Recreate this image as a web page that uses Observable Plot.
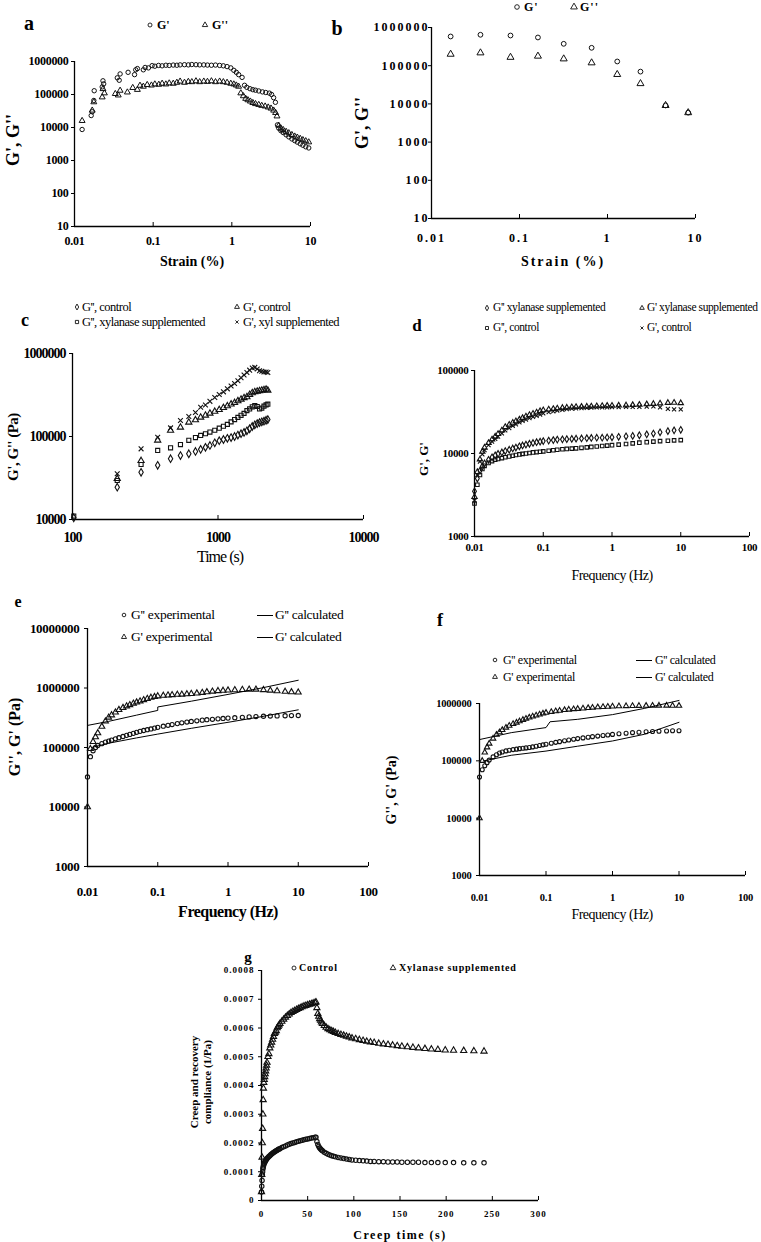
<!DOCTYPE html>
<html><head><meta charset="utf-8">
<script src="https://cdn.jsdelivr.net/npm/d3@7"></script>
<script src="https://cdn.jsdelivr.net/npm/@observablehq/plot@0.6"></script>
<style>
body{margin:0;background:#fff;}
#root{position:relative;width:761px;height:1242px;overflow:hidden;background:#fff;font-family:'Liberation Serif','Times New Roman',serif;color:#000;}
.t{position:absolute;white-space:nowrap;line-height:1;}
</style></head><body><div id="root"></div>
<script>
// ---------- Panel a : strain sweep ----------
const aStrain1 = [0.0125,0.0163,0.0168,0.0176,0.0178,0.0225,0.023,0.0235,0.035,0.037,0.038,0.048,0.058,0.06,0.063,0.075,0.079,0.087,0.097,0.105,0.117,0.13,0.145,0.16,0.18,0.2,0.22,0.25,0.28,0.31,0.35,0.39,0.44,0.49,0.55,0.62,0.7,0.78,0.87,0.97,1.06,1.14,1.22,1.35,1.45,1.55,1.7,1.85,2.0,2.2,2.45,2.7,3.0,3.2,3.4,3.58,3.8,3.95,4.2,4.5,4.9,5.3,5.8,6.3,6.8,7.4,8.0,8.7,9.5];
const aG1 = [8700,23000,30000,66000,130000,170000,260000,210000,320000,270000,420000,470000,400000,560000,610000,560000,660000,640000,750000,720000,760000,740000,770000,760000,780000,770000,790000,800000,790000,810000,800000,790000,790000,780000,770000,780000,760000,740000,700000,640000,540000,470000,400000,330000,190000,165000,150000,140000,135000,128000,120000,115000,110000,100000,80000,58000,12000,9500,8000,7000,6000,5200,4500,4000,3600,3200,2900,2600,2400];
const aStrain2 = [0.0125,0.0168,0.0176,0.0225,0.023,0.024,0.033,0.036,0.038,0.047,0.055,0.063,0.068,0.075,0.084,0.095,0.105,0.118,0.13,0.145,0.16,0.18,0.2,0.22,0.25,0.28,0.31,0.35,0.39,0.44,0.49,0.55,0.62,0.7,0.78,0.87,0.97,1.06,1.14,1.22,1.3,1.4,1.5,1.6,1.72,1.85,2.0,2.2,2.4,2.65,2.9,3.15,3.4,3.6,3.75,3.95,4.2,4.5,4.9,5.3,5.8,6.3,6.8,7.4,8.0,8.7,9.5];
const aG2 = [16000,33000,59000,83000,148000,110000,105000,95000,132000,117000,160000,140000,187000,175000,197000,190000,205000,200000,215000,205000,220000,215000,230000,250000,230000,245000,240000,255000,240000,250000,245000,255000,240000,250000,240000,230000,215000,205000,190000,175000,110000,90000,75000,68000,62000,56000,52000,49000,46000,44000,41000,38000,33000,28000,22000,11500,9500,8500,7500,6800,6000,5400,5000,4600,4200,3900,3600];

// ---------- Panel b : strain sweep ----------
const bStrain = [0.0165,0.036,0.079,0.162,0.318,0.66,1.29,2.37,4.57,8.26];
const bG1 = [582000,645000,617000,548000,374000,294000,129000,70000,9100,5900];
const bG2 = [200000,217000,166000,178000,151000,119000,59000,34000,9100,5900];

// ---------- Panel c : time sweep ----------
const cTime = [102,203,296,385,472,552,630,700,760,820,880,950,1020,1090,1160,1230,1300,1370,1440,1510,1580,1650,1720,1790,1860,1930,2000,2070,2140,2200];
const cG2control = [10500,24500,37000,45000,54000,59000,62000,66000,70000,74000,78000,84000,89000,92000,95000,97000,100000,104000,108000,112000,117000,124000,132000,138000,143000,147000,150000,153000,157000,160000];
const cG1control = [null,31000,51000,90000,118000,129000,148000,158000,170000,180000,190000,200000,210000,222000,233000,245000,255000,268000,280000,292000,300000,320000,335000,345000,350000,355000,360000,365000,370000,360000];
const cG2xyl = [11000,29500,46000,68000,73000,80000,90000,97000,103000,108000,113000,119000,126000,133000,140000,150000,160000,170000,180000,190000,205000,215000,228000,235000,230000,215000,220000,232000,240000,245000];
const cG1xyl = [null,35500,71000,98000,127000,156000,174000,195000,225000,240000,265000,295000,320000,345000,375000,405000,435000,470000,510000,550000,590000,630000,670000,680000,650000,620000,610000,600000,600000,590000];

// ---------- frequency sweep (d, e, f share the same sweep) ----------
const sweepFreq = [0.010,0.011,0.012,0.013,0.014,0.016,0.018,0.02,0.022,0.025,0.028,0.032,0.036,0.04,0.045,0.05,0.056,0.063,0.071,0.08,0.09,0.1,0.12,0.14,0.16,0.19,0.22,0.26,0.3,0.36,0.43,0.5,0.6,0.72,0.85,1.0,1.25,1.6,2.0,2.5,3.2,4.0,5.0,6.5,8.0,10];

// ---------- Panel d ----------
const dG1xyl = [3000,6000,8500,10500,11800,13400,14800,16000,17200,19000,20900,22300,23500,24500,25700,26800,28000,29200,30200,31300,32500,33300,34000,34500,35000,35500,35800,36200,36400,36600,36800,37000,37200,37400,37600,37700,37900,38100,38400,38700,39200,39700,40200,40800,41000,40500];
const dG1control = [2700,5500,8000,9800,11000,12600,13900,15000,16000,17500,19000,20300,21500,22500,23700,24700,25700,26700,27600,28500,29500,30500,31500,32300,33000,33700,34200,34700,35000,35300,35500,35700,35900,36000,36100,36200,36300,36400,36500,36600,36800,37000,36000,34500,34000,34000];
const dG2xyl = [3500,5000,6200,7000,7600,8400,9000,9500,9900,10300,10700,11100,11500,11800,12200,12500,12800,13100,13400,13700,13900,14100,14300,14500,14700,14800,14900,15000,15100,15200,15300,15400,15500,15500,15600,15700,15900,16100,16300,16600,17000,17400,18000,18600,19000,19300];
const dG2control = [2500,4200,5500,6500,7100,7700,8100,8400,8600,8800,9000,9200,9400,9600,9750,9900,10000,10150,10300,10400,10500,10600,10800,10950,11100,11250,11350,11450,11550,11700,11850,12000,12150,12300,12450,12600,12800,13000,13250,13500,13700,13900,14100,14250,14400,14500];

// ---------- Panel e ----------
const eG1exp = [10000,95000,125000,150000,175000,225000,275000,320000,350000,390000,430000,465000,495000,520000,550000,575000,600000,630000,660000,690000,710000,730000,745000,755000,765000,775000,780000,790000,800000,815000,835000,855000,875000,895000,905000,915000,925000,935000,945000,945000,930000,910000,890000,870000,855000,845000];
const eG2exp = [32000,70000,88000,100000,108000,116000,123000,128000,133000,140000,146000,153000,160000,166000,173000,180000,187000,193000,199000,205000,212000,218000,228000,236000,243000,252000,260000,268000,274000,281000,288000,293000,298000,303000,308000,312000,317000,322000,327000,331000,335000,338000,340000,342000,344000,345000];
const eCalcFreq2 = [0.0115,0.02,0.05,0.1,0.3,1,3,10];
const eG2calc = [100000,118000,145000,168000,210000,265000,330000,430000];
const eCalcFreq1 = [0.01,0.02,0.05,0.1,0.1,0.3,1,3,10];
const eG1calc = [235000,275000,350000,420000,480000,600000,780000,1000000,1350000];

// ---------- Panel f ----------
const fG1exp = [10000,100000,140000,172000,200000,245000,285000,315000,345000,380000,410000,440000,465000,490000,520000,545000,570000,595000,620000,645000,670000,690000,715000,735000,750000,770000,785000,798000,808000,822000,835000,848000,860000,872000,882000,890000,897000,903000,908000,912000,915000,918000,920000,920000,918000,915000];
const fG2exp = [52000,70000,82000,93000,103000,117000,128000,137000,143000,149000,153000,157000,160000,163000,166000,168000,171000,175000,180000,185000,190000,195000,203000,210000,216000,224000,231000,238000,244000,251000,258000,264000,270000,277000,283000,289000,296000,303000,310000,316000,321000,325000,329000,332000,334000,335000];
const fCalcFreq2 = [0.0116,0.03,0.1,0.3,1,3,10];
const fG2calc = [100000,125000,148000,180000,222000,290000,470000];
const fCalcFreq1 = [0.01,0.03,0.1,0.115,0.3,1,3,10];
const fG1calc = [235000,310000,380000,480000,530000,640000,820000,1130000];

// ---------- Panel g : creep and recovery ----------
const gTime = [0,0.3,0.6,0.9,1.2,1.5,1.8,2.1,2.5,3,3.5,4,4.5,5,5.5,6,7,8,9,10,11,12,13,14,15,16,17,18,19,20,22,24,26,28,30,32,34,36,38,40,42,44,46,48,50,52,54,56,58,59,60,61,62,63,64,65,66,68,70,72,74,76,78,80,83,86,89,92,95,98,102,106,110,114,118,122,127,132,137,142,147,152,158,164,170,177,184,191,199,208,219,230,241];
const gXylanase = [0.00003,0.00009,0.00015,0.0002,0.00025,0.0003,0.00035,0.00039,0.00041,0.00042,0.00043,0.00044,0.00045,0.00046,0.00047,0.00048,0.0005,0.00051,0.00053,0.00054,0.00055,0.00056,0.00057,0.00058,0.000585,0.00059,0.0006,0.000605,0.00061,0.000615,0.000623,0.00063,0.000637,0.000643,0.000648,0.000653,0.000657,0.00066,0.000664,0.000667,0.00067,0.000673,0.000676,0.000678,0.00068,0.000682,0.000684,0.000686,0.000688,0.00069,0.00067,0.00065,0.00064,0.000632,0.000626,0.00062,0.000615,0.000608,0.000602,0.000597,0.000593,0.00059,0.000587,0.000584,0.00058,0.000577,0.000574,0.000571,0.000568,0.000565,0.000562,0.000559,0.000556,0.000553,0.000551,0.000549,0.000546,0.000544,0.000542,0.00054,0.000538,0.000536,0.000534,0.000532,0.00053,0.000528,0.000526,0.000525,0.000523,0.000522,0.000521,0.00052,0.000519];
const gControl = [0.00003,0.00005,0.00007,0.00009,0.0001,0.00011,0.000115,0.00012,0.000125,0.00013,0.000133,0.000136,0.000139,0.000142,0.000144,0.000146,0.00015,0.000153,0.000156,0.000159,0.000162,0.000164,0.000167,0.000169,0.000171,0.000173,0.000175,0.000177,0.000179,0.00018,0.000184,0.000187,0.00019,0.000193,0.000196,0.000198,0.0002,0.000202,0.000204,0.000206,0.000208,0.00021,0.000211,0.000213,0.000214,0.000216,0.000217,0.000218,0.00022,0.00022,0.000205,0.000195,0.000188,0.000183,0.000179,0.000176,0.000173,0.000168,0.000164,0.000161,0.000158,0.000156,0.000154,0.000152,0.00015,0.000148,0.000146,0.000144,0.000143,0.000141,0.00014,0.000139,0.000138,0.000137,0.000136,0.000136,0.000135,0.000135,0.000134,0.000134,0.000134,0.000133,0.000133,0.000133,0.000133,0.000132,0.000132,0.000132,0.000132,0.000132,0.000131,0.000131,0.000131];

// ---------- tick values ----------
const ticksStrain = [0.01,0.1,1,10];
const ticksModA = [10,100,1000,10000,100000,1000000];
const ticksTime = [100,1000,10000];
const ticksModC = [10000,100000,1000000];
const ticksFreq = [0.01,0.1,1,10,100];
const ticksModD = [1000,10000,100000];
const ticksModE = [1000,10000,100000,1000000,10000000];
const ticksModF = [1000,10000,100000,1000000];
const ticksCreep = [0,50,100,150,200,250,300];
const ticksCompliance = [0,0.0001,0.0002,0.0003,0.0004,0.0005,0.0006,0.0007,0.0008];

// ---------- helpers ----------
const root = document.getElementById("root");
const FONT = "'Liberation Serif','Times New Roman',serif";
const INK = "#111";

function addText(txt, cx, cy, o = {}) {
  const d = document.createElement("div");
  d.className = "t";
  d.textContent = txt;
  d.style.left = cx + "px"; d.style.top = cy + "px";
  d.style.fontSize = (o.size || 12) + "px";
  d.style.fontWeight = o.bold ? "bold" : "normal";
  if (o.ls) d.style.letterSpacing = o.ls + "px";
  const tx = o.anchor === "start" ? "0" : "-50%";
  d.style.transform = `translate(${tx},-50%)` + (o.rot ? " rotate(-90deg)" : "");
  root.appendChild(d);
}
const symTypes = {circle: d3.symbolCircle, triangle: d3.symbolTriangle, square: d3.symbolSquare, diamond: d3.symbolDiamond, times: d3.symbolTimes};
function addSym(type, cx, cy, r) {
  const s = d3.create("svg").attr("width", 14).attr("height", 14)
    .style("position", "absolute").style("left", (cx - 7) + "px").style("top", (cy - 7) + "px");
  s.append("path").attr("d", d3.symbol(symTypes[type], Math.PI * r * r)())
    .attr("transform", "translate(7,7)").attr("fill", "none").attr("stroke", INK).attr("stroke-width", 0.9);
  root.appendChild(s.node());
}
function addLineKey(x1, x2, y) {
  const d = document.createElement("div");
  d.style.cssText = `position:absolute;left:${x1}px;top:${y - 0.5}px;width:${x2 - x1}px;height:0;border-top:1px solid #000;`;
  root.appendChild(d);
}
function dots(xs, ys, symbol, r, sw = 1) {
  return Plot.dot(ys, {x: xs, y: ys, symbol, r, stroke: INK, fill: "none", strokeWidth: sw});
}
function curve(xs, ys) {
  return Plot.line(ys, {x: xs, y: ys, stroke: "#000", strokeWidth: 1});
}

function panel(p) {
  const ML = 90, MR = 30, MT = 20, MB = 50;
  const w = p.x1 - p.x0, h = p.y1 - p.y0;
  const off = p.xLabelCY - 0.36 * p.font - p.y1;
  const svg = Plot.plot({
    width: w + ML + MR, height: h + MT + MB,
    marginLeft: ML, marginRight: MR, marginTop: MT, marginBottom: MB,
    x: {type: p.xType, domain: p.xDomain},
    y: {type: p.yType, domain: p.yDomain},
    style: {fontFamily: FONT, fontSize: p.font + "px", fontWeight: "bold", letterSpacing: (p.ls || 0) + "px",
            background: "transparent", overflow: "visible", color: "#000"},
    marks: [
      Plot.axisX({ticks: p.xTicks, tickFormat: d => String(d), tickSize: -4, tickPadding: off + 4, label: null}),
      Plot.axisY({ticks: p.yTicks, tickFormat: d => String(d), tickSize: 3, tickPadding: p.x0 - 3 - p.yLabelEnd, label: null}),
      Plot.ruleX([p.xDomain[0]], {strokeWidth: 1.3}),
      Plot.ruleY([p.yDomain[0]], {strokeWidth: 1.3}),
      ...p.marks
    ]
  });
  svg.style.position = "absolute";
  svg.style.left = (p.x0 - ML) + "px";
  svg.style.top = (p.y0 - MT) + "px";
  root.appendChild(svg);
}

// ---------- a ----------
panel({x0: 74, x1: 310, y0: 61, y1: 226, xType: "log", yType: "log",
  xDomain: [0.01, 10], yDomain: [10, 1000000], xTicks: ticksStrain, yTicks: ticksModA,
  font: 12, ls: -0.3, xLabelCY: 240, yLabelEnd: 68,
  marks: [dots(aStrain1, aG1, "circle", 2.2), dots(aStrain2, aG2, "triangle", 2.2)]});
addText("a", 29, 23, {size: 20, bold: true});
addSym("circle", 150, 25, 2); addText("G'", 157, 25, {size: 12, bold: true, anchor: "start"});
addSym("triangle", 205, 25, 2); addText("G''", 212, 25, {size: 12, bold: true, anchor: "start"});
addText("Strain (%)", 192, 262, {size: 14, bold: true});
addText("G', G''", 13, 140, {size: 18, bold: true, rot: true});

// ---------- b ----------
panel({x0: 431, x1: 695, y0: 27, y1: 218, xType: "log", yType: "log",
  xDomain: [0.01, 10], yDomain: [10, 1000000], xTicks: ticksStrain, yTicks: ticksModA,
  font: 12, ls: 2, xLabelCY: 237, yLabelEnd: 429,
  marks: [dots(bStrain, bG1, "circle", 2.4), dots(bStrain, bG2, "triangle", 2.6)]});
addText("b", 337, 28, {size: 20, bold: true});
addSym("circle", 517, 7, 2.3); addText("G'", 524, 7, {size: 12, bold: true, ls: 1, anchor: "start"});
addSym("triangle", 574, 7, 2.5); addText("G''", 580, 7, {size: 12, bold: true, ls: 1, anchor: "start"});
addText("Strain (%)", 563, 262, {size: 14, bold: true, ls: 2});
addText("G', G''", 362, 123, {size: 18, bold: true, rot: true});

// ---------- c ----------
panel({x0: 72, x1: 363, y0: 353, y1: 519, xType: "log", yType: "log",
  xDomain: [100, 10000], yDomain: [10000, 1000000], xTicks: ticksTime, yTicks: ticksModC,
  font: 14, ls: -1, xLabelCY: 537, yLabelEnd: 65,
  marks: [dots(cTime, cG2control, "diamond", 2.3, 1.1), dots(cTime, cG1control, "triangle", 2.3, 1.1),
          dots(cTime, cG2xyl, "square", 2.3, 1.1), dots(cTime, cG1xyl, "times", 2.3, 1.1)]});
addText("c", 25, 320, {size: 18, bold: true});
addSym("diamond", 77, 307, 1.8); addText("G'', control", 82, 307, {size: 12.5, ls: -0.5, anchor: "start"});
addSym("triangle", 237, 307, 1.8); addText("G', control", 243, 307, {size: 12.5, ls: -0.5, anchor: "start"});
addSym("square", 77, 322, 1.8); addText("G'', xylanase supplemented", 82, 322, {size: 12.5, ls: -0.5, anchor: "start"});
addSym("times", 237, 322, 1.6); addText("G', xyl supplemented", 243, 322, {size: 12.5, ls: -0.5, anchor: "start"});
addText("Time (s)", 220, 557, {size: 16, ls: -1});
addText("G', G'' (Pa)", 13, 447, {size: 15, bold: true, ls: -0.5, rot: true});

// ---------- d ----------
panel({x0: 474, x1: 749, y0: 370, y1: 536, xType: "log", yType: "log",
  xDomain: [0.01, 100], yDomain: [1000, 100000], xTicks: ticksFreq, yTicks: ticksModD,
  font: 11, ls: -0.3, xLabelCY: 547, yLabelEnd: 468,
  marks: [dots(sweepFreq, dG2control, "square", 2, 1.1), dots(sweepFreq, dG1control, "times", 2, 1.1),
          dots(sweepFreq, dG2xyl, "diamond", 2, 1.1), dots(sweepFreq, dG1xyl, "triangle", 2, 1.1)]});
addText("d", 417, 325, {size: 17, bold: true});
addSym("diamond", 487, 308, 1.7); addText("G'' xylanase supplemented", 493, 308, {size: 11.5, ls: -0.4, anchor: "start"});
addSym("triangle", 642, 308, 1.7); addText("G' xylanase supplemented", 647, 308, {size: 11.5, ls: -0.4, anchor: "start"});
addSym("square", 487, 328, 1.7); addText("G'', control", 493, 328, {size: 11.5, ls: -0.4, anchor: "start"});
addSym("times", 642, 328, 1.5); addText("G', control", 647, 328, {size: 11.5, ls: -0.4, anchor: "start"});
addText("Frequency (Hz)", 612, 576, {size: 14, ls: -0.5});
addText("G', G'", 423, 459, {size: 13, bold: true, rot: true});

// ---------- e ----------
panel({x0: 87, x1: 368, y0: 628, y1: 866, xType: "log", yType: "log",
  xDomain: [0.01, 100], yDomain: [1000, 10000000], xTicks: ticksFreq, yTicks: ticksModE,
  font: 13, ls: -0.3, xLabelCY: 891, yLabelEnd: 79,
  marks: [dots(sweepFreq, eG2exp, "circle", 2.1, 1.1), dots(sweepFreq, eG1exp, "triangle", 2.2, 1.1),
          curve(eCalcFreq2, eG2calc), curve(eCalcFreq1, eG1calc)]});
addText("e", 18, 602, {size: 16, bold: true});
addSym("circle", 124, 615, 1.8); addText("G'' experimental", 131, 615, {size: 13.5, ls: -0.3, anchor: "start"});
addSym("triangle", 124, 637, 1.9); addText("G' experimental", 131, 637, {size: 13.5, ls: -0.3, anchor: "start"});
addLineKey(257, 273, 615); addText("G'' calculated", 275, 615, {size: 13.5, ls: -0.3, anchor: "start"});
addLineKey(257, 273, 637); addText("G' calculated", 275, 637, {size: 13.5, ls: -0.3, anchor: "start"});
addText("Frequency (Hz)", 228, 912, {size: 16, bold: true, ls: -0.5});
addText("G'', G' (Pa)", 15, 737, {size: 16, bold: true, rot: true});

// ---------- f ----------
panel({x0: 479, x1: 745, y0: 703, y1: 875, xType: "log", yType: "log",
  xDomain: [0.01, 100], yDomain: [1000, 1000000], xTicks: ticksFreq, yTicks: ticksModF,
  font: 10.5, ls: -0.2, xLabelCY: 897, yLabelEnd: 471,
  marks: [dots(sweepFreq, fG2exp, "circle", 2, 1.1), dots(sweepFreq, fG1exp, "triangle", 2, 1.1),
          curve(fCalcFreq2, fG2calc), curve(fCalcFreq1, fG1calc)]});
addText("f", 440, 620, {size: 18, bold: true});
addSym("circle", 495, 660, 1.8); addText("G'' experimental", 503, 660, {size: 12, ls: -0.3, anchor: "start"});
addSym("triangle", 495, 677, 1.8); addText("G' experimental", 503, 677, {size: 12, ls: -0.3, anchor: "start"});
addLineKey(636, 652, 660); addText("G'' calculated", 655, 660, {size: 12, ls: -0.3, anchor: "start"});
addLineKey(636, 652, 677); addText("G' calculated", 655, 677, {size: 12, ls: -0.3, anchor: "start"});
addText("Frequency (Hz)", 612, 915, {size: 14, ls: -0.5});
addText("G'', G' (Pa)", 392, 790, {size: 14, bold: true, rot: true});

// ---------- g ----------
panel({x0: 261, x1: 538, y0: 970, y1: 1200, xType: "linear", yType: "linear",
  xDomain: [0, 300], yDomain: [0, 0.0008], xTicks: ticksCreep, yTicks: ticksCompliance,
  font: 9, ls: 1, xLabelCY: 1213, yLabelEnd: 254,
  marks: [dots(gTime, gControl, "circle", 2.2, 1.1), dots(gTime, gXylanase, "triangle", 2.3, 1.1)]});
addText("g", 248, 957, {size: 15, bold: true});
addSym("circle", 294, 968, 2); addText("Control", 299, 968, {size: 10, bold: true, ls: 0.8, anchor: "start"});
addSym("triangle", 393, 968, 2.1); addText("Xylanase supplemented", 399, 968, {size: 10, bold: true, ls: 0.8, anchor: "start"});
addText("Creep time (s)", 400, 1235, {size: 12, bold: true, ls: 1.5});
addText("Creep and recovery", 194, 1082, {size: 11, bold: true, rot: true});
addText("compliance (1/Pa)", 207, 1082, {size: 11, bold: true, rot: true});
</script></body></html>
